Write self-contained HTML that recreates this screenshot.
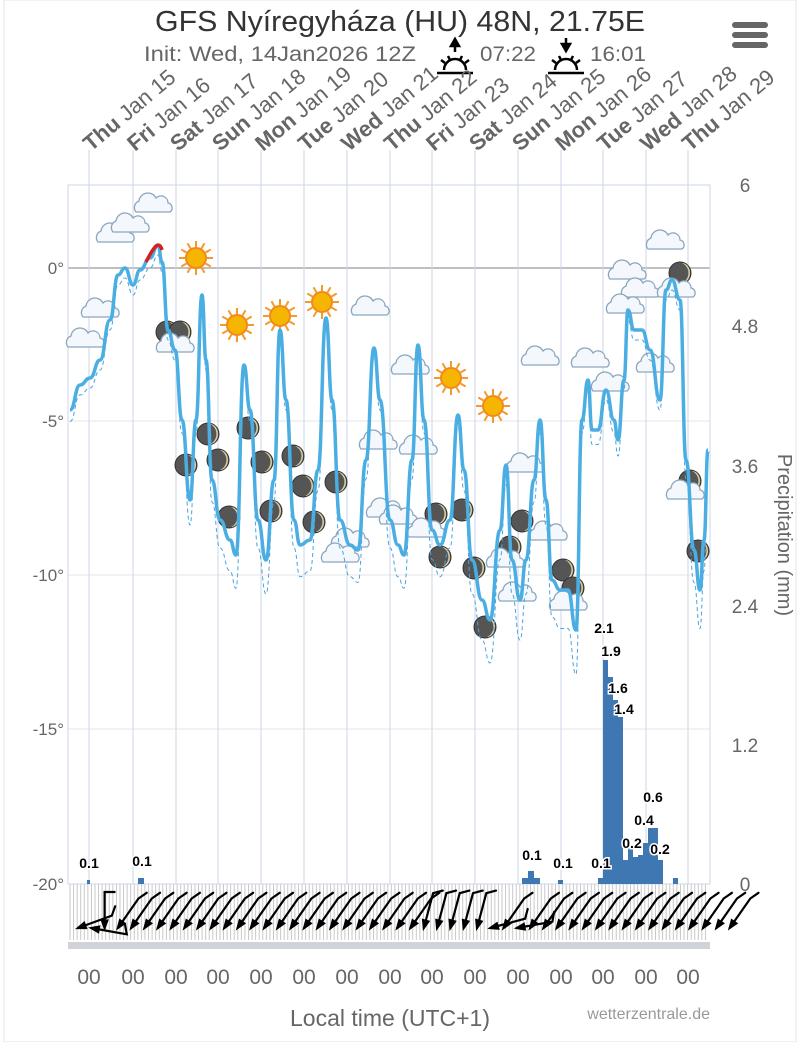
<!DOCTYPE html>
<html><head><meta charset="utf-8"><style>
html,body{margin:0;padding:0;background:#fff;}
svg{display:block;font-family:"Liberation Sans",sans-serif;}
</style></head><body>
<svg id="s" width="800" height="1042" viewBox="0 0 800 1042" xmlns="http://www.w3.org/2000/svg">
<rect x="0" y="0" width="800" height="1042" fill="#fff"/>
<rect x="4" y="0" width="792" height="1042" fill="none" stroke="#e6e6e6" stroke-width="1"/>
<text x="155" y="31" font-size="29" fill="#333" textLength="490" lengthAdjust="spacingAndGlyphs">GFS Nyíregyháza (HU) 48N, 21.75E</text>
<text x="144" y="61" font-size="21" fill="#666" textLength="272" lengthAdjust="spacingAndGlyphs">Init: Wed, 14Jan2026 12Z</text>
<text x="480" y="61" font-size="21" fill="#666" textLength="56" lengthAdjust="spacingAndGlyphs">07:22</text>
<text x="590" y="61" font-size="21" fill="#666" textLength="56" lengthAdjust="spacingAndGlyphs">16:01</text>
<g stroke="#000" stroke-width="2.5" fill="none">
<line x1="437" y1="73" x2="473" y2="73"/><path d="M444 70 a11 11 0 0 1 22 0"/><line x1="455" y1="52" x2="455" y2="44"/><path d="M451 46 l4 -7 l4 7 z" fill="#000"/>
<line x1="441" y1="60" x2="445" y2="63"/><line x1="469" y1="60" x2="465" y2="63"/><line x1="448" y1="56" x2="450" y2="60"/><line x1="462" y1="56" x2="460" y2="60"/>
<line x1="548" y1="73" x2="584" y2="73"/><path d="M555 70 a11 11 0 0 1 22 0"/><line x1="566" y1="38" x2="566" y2="46"/><path d="M562 44 l4 7 l4 -7 z" fill="#000"/>
<line x1="552" y1="60" x2="556" y2="63"/><line x1="580" y1="60" x2="576" y2="63"/><line x1="559" y1="56" x2="561" y2="60"/><line x1="573" y1="56" x2="571" y2="60"/>
</g>
<g fill="#666"><rect x="732" y="22" width="36" height="6" rx="3"/><rect x="732" y="32" width="36" height="6" rx="3"/><rect x="732" y="42" width="36" height="6" rx="3"/></g>
<g id="grid"></g>
<rect x="68" y="185" width="642" height="699" fill="none" stroke="#ccd6eb"/>
<g font-size="17" fill="#666" text-anchor="end">
<text x="64" y="274">0°</text><text x="64" y="427">-5°</text><text x="64" y="581">-10°</text><text x="64" y="735">-15°</text><text x="64" y="890">-20°</text>
</g>
<g font-size="19" fill="#666" text-anchor="middle">
<text x="745" y="192">6</text><text x="745" y="333">4.8</text><text x="745" y="473">3.6</text><text x="745" y="613">2.4</text><text x="745" y="752">1.2</text><text x="745" y="891">0</text>
</g>
<text transform="translate(778,535) rotate(90)" font-size="20" fill="#666" text-anchor="middle">Precipitation (mm)</text>
<g id="bars" fill="#3f77b3"></g>
<g id="icons"></g>
<path id="dash" fill="none" stroke="#4aa3df" stroke-width="1" stroke-dasharray="4,3"/>
<path id="temp" fill="none" stroke="#4aaee3" stroke-width="3.5" stroke-linejoin="round"/>
<path d="M146 262 Q152 250 156 246 Q160 243 162 250" fill="none" stroke="#d62020" stroke-width="3.5"/>
<g id="plabels" font-size="14" font-weight="bold" fill="#000" text-anchor="middle" stroke="#fff" stroke-width="3" paint-order="stroke"></g>
<g id="wind"></g>
<rect x="68" y="942" width="642" height="7" fill="#d0d4da"/>
<g id="xl" font-size="21" fill="#666" text-anchor="middle"></g>
<text x="390" y="1026" font-size="23" fill="#666" text-anchor="middle">Local time (UTC+1)</text>
<text x="710" y="1019" font-size="16" fill="#999" text-anchor="end">wetterzentrale.de</text>
<g id="days" font-size="22" fill="#666"></g>
</svg>
<script>
var NS="http://www.w3.org/2000/svg";
function el(p,t,a,txt){var e=document.createElementNS(NS,t);for(var k in a)e.setAttribute(k,a[k]);if(txt!==undefined)e.textContent=txt;document.getElementById(p).appendChild(e);return e;}
var days=[89,133,176,218,261,304,347,390,432,475,518,561,603,646,688];
var dn=["Thu","Fri","Sat","Sun","Mon","Tue","Wed","Thu","Fri","Sat","Sun","Mon","Tue","Wed","Thu"];
[421,575,729].forEach(function(y){el("grid","line",{x1:68,x2:710,y1:y,y2:y,stroke:"#e6e6e6"});});
el("grid","line",{x1:68,x2:710,y1:268,y2:268,stroke:"#aaa","stroke-width":1.5});
days.forEach(function(x,i){
 el("grid","line",{x1:x,x2:x,y1:150,y2:884,stroke:"#ccd6eb"});
 var t=el("days","text",{transform:"translate("+(x+2)+",152) rotate(-40)"});
 var b=document.createElementNS(NS,"tspan");b.setAttribute("font-weight","bold");b.textContent=dn[i];t.appendChild(b);
 var n=document.createElementNS(NS,"tspan");n.textContent=" Jan "+(15+i);t.appendChild(n);
 el("xl","text",{x:x,y:984},"00");
});
for(var x=70;x<=708;x+=3.57){el("grid","line",{x1:x,x2:x,y1:884,y2:940,stroke:"#c8c8c8"});}
var pts=[[70,410],[80,385],[90,378],[100,360],[110,320],[118,275],[125,268],[133,285],[140,270],[150,258],[158,245],[162,262],[168,330],[175,350],[182,420],[190,500],[196,420],[202,295],[206,360],[212,480],[220,520],[230,540],[236,555],[244,365],[250,410],[258,520],[266,560],[274,480],[280,330],[286,400],[294,520],[300,545],[310,540],[318,470],[326,318],[332,400],[340,520],[350,545],[358,550],[366,460],[374,348],[380,400],[390,520],[398,545],[404,555],[412,460],[418,345],[424,420],[432,530],[440,545],[450,520],[458,415],[464,470],[472,560],[482,600],[490,620],[500,530],[506,465],[512,560],[520,600],[526,560],[534,480],[540,420],[546,500],[552,580],[560,590],[568,590],[576,630],[582,420],[588,380],[592,430],[598,430],[606,390],[614,420],[618,440],[624,380],[628,310],[634,330],[642,330],[650,350],[660,400],[666,290],[672,280],[680,300],[686,460],[694,550],[700,590],[704,540],[708,450]];
function smooth(p,dy){var d="M"+p[0][0]+" "+(p[0][1]+dy(0));for(var i=1;i<p.length;i++){var a=p[i-1],b=p[i];var mx=(a[0]+b[0])/2;d+=" C"+mx+" "+(a[1]+dy(i-1))+" "+mx+" "+(b[1]+dy(i))+" "+b[0]+" "+(b[1]+dy(i));}return d;}
document.getElementById("temp").setAttribute("d",smooth(pts,function(){return 0;}));
document.getElementById("dash").setAttribute("d",smooth(pts,function(i){var y=pts[i][1];return 10+Math.max(0,(y-400))*0.15;}));
var bars=[[87,3,880],[138,6,878],[522,6,878],[528,6,871],[534,6,878],[558,5,880],[598,5,878],[603,5,660],[608,5,677],[613,5,700],[618,5,717],[623,5,860],[628,5,848],[633,5,857],[638,5,855],[643,5,843],[648,5,828],[653,5,828],[658,5,860],[673,5,878]];
bars.forEach(function(b){el("bars","rect",{x:b[0],y:b[2],width:b[1],height:884-b[2]});});
[["0.1",89,868],["0.1",142,866],["0.1",532,860],["0.1",563,868],["0.1",601,868],["2.1",604,633],["1.9",611,656],["1.6",618,693],["1.4",624,714],["0.6",653,802],["0.4",644,825],["0.2",632,848],["0.2",660,854]].forEach(function(l){el("plabels","text",{x:l[1],y:l[2]},l[0]);});
var clouds=[[115,235],[130,225],[153,205],[100,310],[85,340],[175,345],[370,308],[410,367],[378,442],[418,447],[540,358],[590,360],[610,384],[665,242],[627,272],[640,290],[625,306],[655,365],[525,465],[350,540],[340,555],[385,510],[398,517],[426,530],[505,560],[517,594],[568,603],[548,533],[685,492],[676,290]];
var suns=[[196,258],[237,325],[280,316],[322,302],[451,378],[493,406]];
var moons=[[167,332],[180,332],[186,465],[208,434],[218,460],[229,517],[248,428],[262,462],[271,511],[293,456],[303,486],[314,522],[336,482],[436,514],[440,557],[462,510],[474,568],[485,627],[510,547],[522,521],[563,570],[573,588],[680,273],[690,481],[698,551]];
moons.forEach(function(m){el("icons","circle",{cx:m[0],cy:m[1],r:11,fill:"#555",stroke:"#333"});el("icons","path",{d:"M"+(m[0]+2)+" "+(m[1]-10)+" a11 11 0 0 1 0 20 a8 10 0 0 0 0 -20z",fill:"#d8cfa0"});});
suns.forEach(function(s){for(var a=0;a<12;a++){var r=a*Math.PI/6;el("icons","line",{x1:s[0]+11*Math.cos(r),y1:s[1]+11*Math.sin(r),x2:s[0]+17*Math.cos(r),y2:s[1]+17*Math.sin(r),stroke:"#f39a2a","stroke-width":2});}el("icons","circle",{cx:s[0],cy:s[1],r:10,fill:"#f6b500",stroke:"#f08a1c","stroke-width":2});});
clouds.forEach(function(c){var x=c[0],y=c[1];el("icons","path",{d:"M"+(x-17)+" "+(y+7)+" a7 7 0 0 1 3 -11 a9 9 0 0 1 17 -3 a7 7 0 0 1 12 5 a5 5 0 0 1 2 9 z",fill:"#f4f8fc",stroke:"#8aa6bf","stroke-width":1.3});});
// wind barbs: arrow tip at lower-left, shaft going up, barb at top
for(var i=0;i<50;i++){
 var x=78+i*13.3;
 var deg;
 if(i<2) deg=160+i*30; else if(i==2) deg=90; else if(i>=26&&i<31) deg=105; else if(i==31) deg=165; else if(i==33) deg=170; else deg=125;
 var r=deg*Math.PI/180, L=36;
 var tipx=x, tipy=928;
 // shaft from tip towards direction (angle measured from +x, upward positive)
 var ex=tipx+L*Math.cos(r)*-1, ey=tipy-L*Math.sin(r);
 ex=tipx-L*Math.cos(r); ey=tipy-L*Math.sin(r);
 var ux=Math.cos(r),uy=Math.sin(r);
 // barb perpendicular at end
 var bx=ex+9*uy*-1+ -4*ux, by=ey+9*ux*-1 + 4*uy;
 bx=ex+10*Math.sin(r)-4*(-ux); by=ey+10*Math.cos(r)-4*(-uy)*-1;
 var g=el("wind","g",{stroke:"#000","stroke-width":2.2,fill:"none","stroke-linecap":"round"});
 var p=document.createElementNS(NS,"path");
 p.setAttribute("d","M"+tipx+" "+tipy+" L"+ex.toFixed(1)+" "+ey.toFixed(1)+" L"+(ex+10*Math.sin(r)).toFixed(1)+" "+(ey+10*Math.cos(r)).toFixed(1));
 g.appendChild(p);
 var h=document.createElementNS(NS,"path");
 var hx=tipx-8*Math.cos(r+0.35), hy=tipy-8*Math.sin(r+0.35), kx=tipx-8*Math.cos(r-0.35), ky=tipy-8*Math.sin(r-0.35);
 h.setAttribute("d","M"+tipx+" "+tipy+" L"+hx.toFixed(1)+" "+hy.toFixed(1)+" L"+kx.toFixed(1)+" "+ky.toFixed(1)+" Z");
 h.setAttribute("fill","#000");
 g.appendChild(h);
}
</script>
</body></html>
